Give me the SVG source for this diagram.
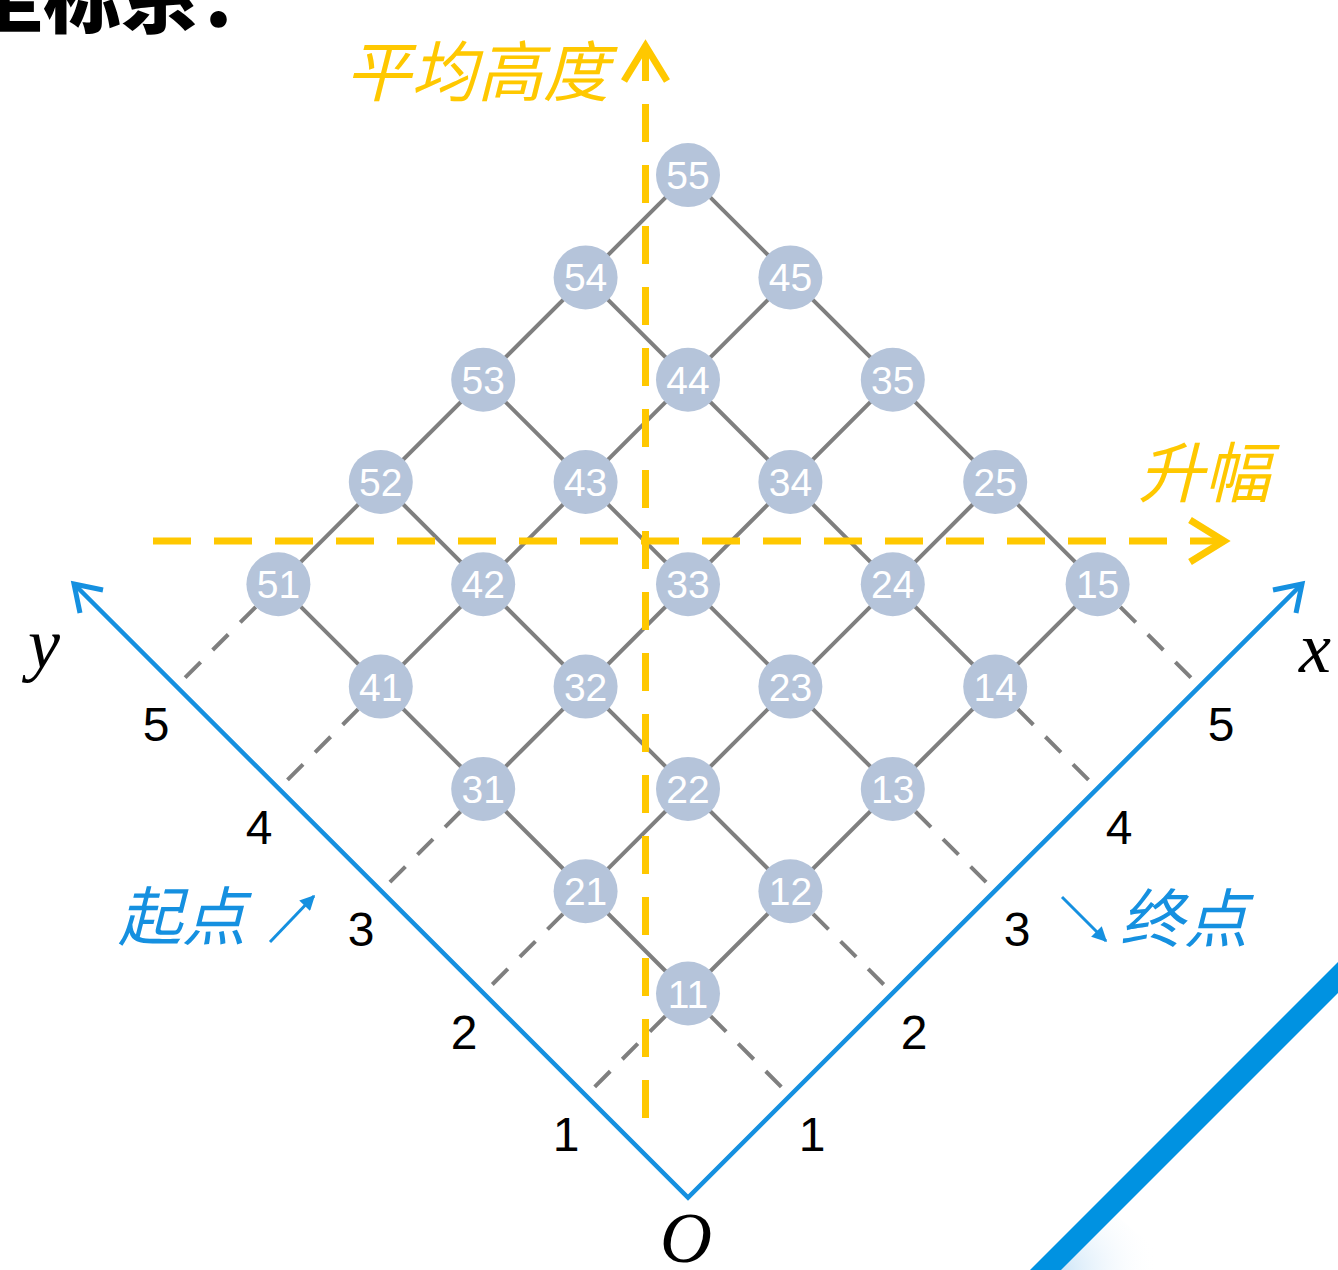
<svg xmlns="http://www.w3.org/2000/svg" width="1338" height="1270" viewBox="0 0 1338 1270">
<defs>
<style>
.grid{stroke:#7f7f7f;stroke-width:4;fill:none}
.dash{stroke:#7f7f7f;stroke-width:4;fill:none;stroke-dasharray:22 17}
.ydash{stroke:#ffc800;stroke-width:7;fill:none;stroke-dasharray:38 23}
.yarrow{stroke:#ffc800;stroke-width:7;fill:none;stroke-linejoin:miter}
.axis{stroke:#1590e0;stroke-width:4.5;fill:none}
.barrow{stroke:#1590e0;stroke-width:5;fill:none;stroke-linejoin:miter}
.node circle{fill:#b5c4da}
.node text{font-family:"Liberation Sans",Arial,sans-serif;font-size:39px;fill:#ffffff;text-anchor:middle}
.tick{font-family:"Liberation Sans",Arial,sans-serif;font-size:48px;fill:#000000;text-anchor:middle}
.var{font-family:"Liberation Serif","Times New Roman",serif;font-style:italic;font-size:72px;fill:#000000}
.ylab{font-family:"Noto Sans CJK SC",sans-serif;font-style:italic;font-size:66px;fill:#ffc800}
.blab{font-family:"Noto Sans CJK SC",sans-serif;font-style:italic;font-size:64px;fill:#1590e0}
</style>
<marker id="ah" viewBox="0 0 10 10" refX="9" refY="5" markerWidth="6" markerHeight="5" orient="auto" markerUnits="strokeWidth">
<path d="M0 0 L10 5 L0 10 Z" fill="#1590e0"/>
</marker>
<radialGradient id="glow" cx="1062" cy="1270" r="95" gradientUnits="userSpaceOnUse">
<stop offset="0" stop-color="#cfe6f8"/>
<stop offset="1" stop-color="#ffffff" stop-opacity="0"/>
</radialGradient>
</defs>
<rect width="1338" height="1270" fill="#ffffff"/>

<text x="-35" y="27" font-family="'Noto Sans CJK SC',sans-serif" font-weight="900" font-size="78" fill="#000000">坐标系：</text>

<g id="stripe">
<polygon points="1050,1270 1110,1210 1180,1270" fill="url(#glow)"/>
<polygon points="1338,962 1338,993 1061,1270 1030,1270" fill="#0092e1"/>
</g>

<g id="connectors">
<g id="grid">
<line class="grid" x1="688" y1="993.5" x2="278.4" y2="584.3"/>
<line class="grid" x1="790.4" y1="891.2" x2="380.8" y2="482"/>
<line class="grid" x1="892.8" y1="788.9" x2="483.2" y2="379.7"/>
<line class="grid" x1="995.2" y1="686.6" x2="585.6" y2="277.4"/>
<line class="grid" x1="1097.6" y1="584.3" x2="688" y2="175.1"/>
<line class="grid" x1="688" y1="993.5" x2="1097.6" y2="584.3"/>
<line class="grid" x1="585.6" y1="891.2" x2="995.2" y2="482"/>
<line class="grid" x1="483.2" y1="788.9" x2="892.8" y2="379.7"/>
<line class="grid" x1="380.8" y1="686.6" x2="790.4" y2="277.4"/>
<line class="grid" x1="278.4" y1="584.3" x2="688" y2="175.1"/>
</g>
<g id="dashes">
<path class="dash" d="M710.6 1016.1 l70.7 70.7"/>
<path class="dash" d="M813 913.8 l70.7 70.7"/>
<path class="dash" d="M915.4 811.5 l70.7 70.7"/>
<path class="dash" d="M1017.8 709.2 l70.7 70.7"/>
<path class="dash" d="M1120.2 606.9 l70.7 70.7"/>
<path class="dash" d="M665.4 1016.1 l-70.7 70.7"/>
<path class="dash" d="M563 913.8 l-70.7 70.7"/>
<path class="dash" d="M460.6 811.5 l-70.7 70.7"/>
<path class="dash" d="M358.2 709.2 l-70.7 70.7"/>
<path class="dash" d="M255.8 606.9 l-70.7 70.7"/>
</g>
</g>

<g id="yellow-axes">
<path class="ydash" d="M645.5 1118 L645.5 46"/>
<path class="yarrow" d="M624 81 L645.5 46 L667 81"/>
<path class="ydash" d="M153 541 L1224 541"/>
<path class="yarrow" d="M1190 520 L1224 541 L1190 562"/>
<text class="ylab" x="345" y="96">平均高度</text>
<text class="ylab" x="1138" y="497">升幅</text>
</g>

<g id="axes">
<polyline class="axis" points="74,584 688,1197.5 1302,584"/>
<path class="barrow" d="M1273 590 L1302 584 L1296 613"/>
<path class="barrow" d="M103 590 L74 584 L80 613"/>
<text class="var" x="1299" y="672">x</text>
<text class="var" x="28" y="668">y</text>
<text class="var" x="686" y="1262" text-anchor="middle" font-size="66">O</text>
<text class="tick" x="812" y="1151">1</text>
<text class="tick" x="914" y="1049">2</text>
<text class="tick" x="1017" y="946">3</text>
<text class="tick" x="1119" y="844">4</text>
<text class="tick" x="1221" y="741">5</text>
<text class="tick" x="566" y="1151">1</text>
<text class="tick" x="464" y="1049">2</text>
<text class="tick" x="361" y="946">3</text>
<text class="tick" x="259" y="844">4</text>
<text class="tick" x="156" y="741">5</text>
<text class="blab" x="118" y="940">起点</text>
<line x1="270" y1="942" x2="314" y2="896" stroke="#1590e0" stroke-width="3" marker-end="url(#ah)"/>
<line x1="1062" y1="897" x2="1106" y2="941" stroke="#1590e0" stroke-width="3" marker-end="url(#ah)"/>
<text class="blab" x="1120" y="942">终点</text>
</g>

<g id="n11" class="node"><circle cx="688" cy="993.5" r="32"/><text x="688" y="1007.5">11</text></g>
<g id="n12" class="node"><circle cx="790.4" cy="891.2" r="32"/><text x="790.4" y="905.2">12</text></g>
<g id="n21" class="node"><circle cx="585.6" cy="891.2" r="32"/><text x="585.6" y="905.2">21</text></g>
<g id="n13" class="node"><circle cx="892.8" cy="788.9" r="32"/><text x="892.8" y="802.9">13</text></g>
<g id="n22" class="node"><circle cx="688" cy="788.9" r="32"/><text x="688" y="802.9">22</text></g>
<g id="n31" class="node"><circle cx="483.2" cy="788.9" r="32"/><text x="483.2" y="802.9">31</text></g>
<g id="n14" class="node"><circle cx="995.2" cy="686.6" r="32"/><text x="995.2" y="700.6">14</text></g>
<g id="n23" class="node"><circle cx="790.4" cy="686.6" r="32"/><text x="790.4" y="700.6">23</text></g>
<g id="n32" class="node"><circle cx="585.6" cy="686.6" r="32"/><text x="585.6" y="700.6">32</text></g>
<g id="n41" class="node"><circle cx="380.8" cy="686.6" r="32"/><text x="380.8" y="700.6">41</text></g>
<g id="n15" class="node"><circle cx="1097.6" cy="584.3" r="32"/><text x="1097.6" y="598.3">15</text></g>
<g id="n24" class="node"><circle cx="892.8" cy="584.3" r="32"/><text x="892.8" y="598.3">24</text></g>
<g id="n33" class="node"><circle cx="688" cy="584.3" r="32"/><text x="688" y="598.3">33</text></g>
<g id="n42" class="node"><circle cx="483.2" cy="584.3" r="32"/><text x="483.2" y="598.3">42</text></g>
<g id="n51" class="node"><circle cx="278.4" cy="584.3" r="32"/><text x="278.4" y="598.3">51</text></g>
<g id="n25" class="node"><circle cx="995.2" cy="482" r="32"/><text x="995.2" y="496">25</text></g>
<g id="n34" class="node"><circle cx="790.4" cy="482" r="32"/><text x="790.4" y="496">34</text></g>
<g id="n43" class="node"><circle cx="585.6" cy="482" r="32"/><text x="585.6" y="496">43</text></g>
<g id="n52" class="node"><circle cx="380.8" cy="482" r="32"/><text x="380.8" y="496">52</text></g>
<g id="n35" class="node"><circle cx="892.8" cy="379.7" r="32"/><text x="892.8" y="393.7">35</text></g>
<g id="n44" class="node"><circle cx="688" cy="379.7" r="32"/><text x="688" y="393.7">44</text></g>
<g id="n53" class="node"><circle cx="483.2" cy="379.7" r="32"/><text x="483.2" y="393.7">53</text></g>
<g id="n45" class="node"><circle cx="790.4" cy="277.4" r="32"/><text x="790.4" y="291.4">45</text></g>
<g id="n54" class="node"><circle cx="585.6" cy="277.4" r="32"/><text x="585.6" y="291.4">54</text></g>
<g id="n55" class="node"><circle cx="688" cy="175.1" r="32"/><text x="688" y="189.1">55</text></g>
</svg>
